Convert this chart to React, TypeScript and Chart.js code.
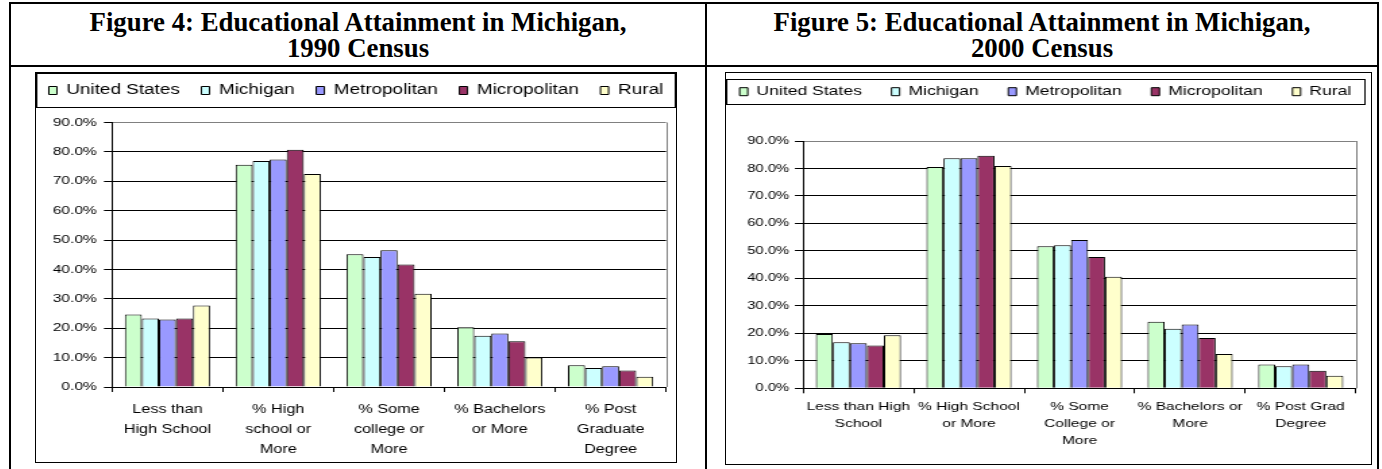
import React, { useEffect, useRef } from 'react';
import { Chart, registerables } from 'chart.js';

Chart.register(...registerables);

// ---------- data ----------
const SERIES_NAMES = ['United States', 'Michigan', 'Metropolitan', 'Micropolitan', 'Rural'];
const SERIES_COLORS = ['#CCFFCC', '#CCFFFF', '#9999FF', '#993366', '#FFFFCC'];

const TITLE_1990 = ['Figure 4: Educational Attainment in Michigan,', '1990 Census'];
const TITLE_2000 = ['Figure 5: Educational Attainment in Michigan,', '2000 Census'];

const CATEGORIES_1990 = [
  ['Less than', 'High School'],
  ['% High', 'school or', 'More'],
  ['% Some', 'college or', 'More'],
  ['% Bachelors', 'or More'],
  ['% Post', 'Graduate', 'Degree'],
];
const US_1990 = [24.7, 75.6, 45.2, 20.3, 7.4];
const MICHIGAN_1990 = [23.3, 76.9, 44.2, 17.4, 6.5];
const METRO_1990 = [23.0, 77.4, 46.5, 18.2, 7.1];
const MICRO_1990 = [23.3, 80.7, 41.7, 15.6, 5.6];
const RURAL_1990 = [27.7, 72.5, 31.7, 10.0, 3.5];

const CATEGORIES_2000 = [
  ['Less than High', 'School'],
  ['% High School', 'or More'],
  ['% Some', 'College or', 'More'],
  ['% Bachelors or', 'More'],
  ['% Post Grad', 'Degree'],
];
const US_2000 = [19.8, 80.5, 51.7, 24.2, 8.7];
const MICHIGAN_2000 = [16.8, 83.7, 52.1, 21.7, 8.0];
const METRO_2000 = [16.4, 83.7, 54.0, 23.2, 8.7];
const MICRO_2000 = [15.6, 84.6, 47.8, 18.3, 6.4];
const RURAL_2000 = [19.3, 80.9, 40.6, 12.5, 4.6];

const Y_MIN = 0;
const Y_MAX = 90;
const Y_STEP = 10;

// ---------- styling ----------
const SANS = '"Liberation Sans", Arial, sans-serif';
const SERIF = '"Liberation Serif", "Times New Roman", serif';

Chart.defaults.font.family = SANS;
Chart.defaults.color = '#000';

const legendFrame = {
  id: 'legendFrame',
  afterDraw(chart: any, _a: any, opts: any) {
    const ctx = chart.ctx;
    ctx.save();
    ctx.strokeStyle = '#000';
    ctx.lineWidth = 1;
    ctx.strokeRect(opts.x, opts.y, opts.w, opts.h);
    ctx.restore();
  },
};

const plotFrame = {
  id: 'plotFrame',
  beforeDatasetsDraw(chart: any) {
    const { ctx, chartArea } = chart;
    ctx.save();
    ctx.strokeStyle = '#808080';
    ctx.lineWidth = 1;
    ctx.beginPath();
    const x = Math.round(chartArea.right) + 0.5;
    ctx.moveTo(x, chartArea.top);
    ctx.lineTo(x, chartArea.bottom);
    ctx.stroke();
    ctx.restore();
  },
};

type PanelCfg = {
  categories: string[][];
  series: number[][];
  iw: number; // internal canvas width
  h: number;
  dw: number; // displayed width
  left: number;
  top: number;
  padTop: number;
  padLeft: number;
  padRight: number;
  topSpacer: number;
  rightSpacer: number;
  yWidth: number;
  xHeight: number;
  legendFont: number;
  legendPad: number;
  frame: { x: number; y: number; w: number; h: number };
  yFont: number;
  yPad: number;
  xFont: number;
  xLine: string;
  xPad: number;
};

function buildConfig(p: PanelCfg): any {
  return {
    type: 'bar',
    data: {
      labels: p.categories,
      datasets: SERIES_NAMES.map((name, i) => ({
        label: name,
        data: p.series[i],
        backgroundColor: SERIES_COLORS[i],
        borderColor: '#000',
        borderWidth: 1,
        categoryPercentage: 1 / 1.3,
        barPercentage: 1,
        xAxisID: 'x',
        yAxisID: 'y',
      })),
    },
    options: {
      responsive: false,
      animation: false,
      events: [],
      layout: { padding: { top: p.padTop, right: p.padRight, left: p.padLeft, bottom: 0 } },
      plugins: {
        tooltip: { enabled: false },
        title: { display: false },
        legend: {
          display: true,
          position: 'top',
          align: 'center',
          labels: {
            color: '#000',
            font: { family: SANS, size: p.legendFont },
            boxWidth: 6,
            boxHeight: 8,
            padding: p.legendPad,
          },
        },
        legendFrame: p.frame,
      },
      scales: {
        x: {
          type: 'category',
          position: 'bottom',
          offset: true,
          grid: {
            display: true,
            offset: true,
            drawOnChartArea: false,
            drawTicks: true,
            tickLength: 5,
            color: '#000',
          },
          border: { display: true, color: '#000', width: 1 },
          ticks: {
            color: '#000',
            font: { family: SANS, size: p.xFont, lineHeight: p.xLine },
            padding: p.xPad,
            maxRotation: 0,
            minRotation: 0,
            autoSkip: false,
          },
          afterFit: (s: any) => {
            s.height = p.xHeight;
          },
        },
        y: {
          type: 'linear',
          position: 'left',
          min: Y_MIN,
          max: Y_MAX,
          ticks: {
            stepSize: Y_STEP,
            color: '#000',
            font: { family: SANS, size: p.yFont },
            padding: p.yPad,
            callback: (v: any) => Number(v).toFixed(1) + '%',
          },
          grid: {
            color: (c: any) => (c.tick && c.tick.value === Y_MAX ? '#808080' : '#000'),
            tickColor: '#000',
            tickLength: 6,
            lineWidth: 1,
          },
          border: { display: true, color: '#000', width: 1 },
          afterFit: (s: any) => {
            s.width = p.yWidth;
          },
        },
        topSpacer: {
          type: 'linear',
          axis: 'x',
          position: 'top',
          display: true,
          grid: { display: false, drawTicks: false },
          ticks: { display: false },
          border: { display: false },
          afterFit: (s: any) => {
            s.height = p.topSpacer;
          },
        },
        rightSpacer: {
          type: 'linear',
          axis: 'y',
          position: 'right',
          display: true,
          grid: { display: false, drawTicks: false },
          ticks: { display: false },
          border: { display: false },
          afterFit: (s: any) => {
            s.width = p.rightSpacer;
          },
        },
      },
    },
    plugins: [legendFrame, plotFrame],
  };
}

function BarPanel({ cfg }: { cfg: PanelCfg }) {
  const ref = useRef<HTMLCanvasElement>(null);
  useEffect(() => {
    const chart = new Chart(ref.current as HTMLCanvasElement, buildConfig(cfg));
    return () => chart.destroy();
  }, []);
  return (
    <canvas
      ref={ref}
      width={cfg.iw}
      height={cfg.h}
      style={{
        position: 'absolute',
        left: cfg.left + 'px',
        top: cfg.top + 'px',
        width: cfg.dw + 'px',
        height: cfg.h + 'px',
      }}
    />
  );
}

// internal canvas units are stretched horizontally (~1.35x) to match the reference's wide text
const PANEL_1990: PanelCfg = {
  categories: CATEGORIES_1990,
  series: [US_1990, MICHIGAN_1990, METRO_1990, MICRO_1990, RURAL_1990],
  iw: 474,
  h: 389,
  dw: 640,
  left: 36,
  top: 73,
  padTop: -5.5,
  padLeft: -14,
  padRight: -14,
  topSpacer: 15,
  rightSpacer: 21.4,
  yWidth: 70.3,
  xHeight: 75,
  legendFont: 14,
  legendPad: 16,
  frame: { x: 0.5, y: 0.5, w: 473, h: 34 },
  yFont: 11.5,
  yPad: 5.3,
  xFont: 12,
  xLine: '20px',
  xPad: 8,
};

const PANEL_2000: PanelCfg = {
  categories: CATEGORIES_2000,
  series: [US_2000, MICHIGAN_2000, METRO_2000, MICRO_2000, RURAL_2000],
  iw: 478,
  h: 391,
  dw: 645,
  left: 726,
  top: 73,
  padTop: -9.8,
  padLeft: -17,
  padRight: -12.5,
  topSpacer: 32.8,
  rightSpacer: 23.6,
  yWidth: 74.1,
  xHeight: 75.7,
  legendFont: 13,
  legendPad: 22,
  frame: { x: 0.5, y: 6.5, w: 473, h: 25 },
  yFont: 11,
  yPad: 4.2,
  xFont: 11.5,
  xLine: '17px',
  xPad: 5,
};

const abs = (l: number, t: number, w: number, h: number, extra: any = {}) => ({
  position: 'absolute' as const,
  left: l + 'px',
  top: t + 'px',
  width: w + 'px',
  height: h + 'px',
  boxSizing: 'border-box' as const,
  ...extra,
});

const titleStyle = (l: number, w: number) => ({
  position: 'absolute' as const,
  left: l + 'px',
  top: '9px',
  width: w + 'px',
  textAlign: 'center' as const,
  fontFamily: SERIF,
  fontWeight: 'bold' as const,
  fontSize: '26.8px',
  lineHeight: '26px',
  color: '#000',
  whiteSpace: 'nowrap' as const,
});

export default function App() {
  return (
    <div style={abs(0, 0, 1382, 469, { overflow: 'hidden', background: '#fff' })}>
      {/* table frame */}
      <div style={abs(9, 2, 1370, 600, { border: '2px solid #000' })} />
      <div style={abs(705, 2, 2, 600, { background: '#000' })} />
      <div style={abs(9, 65, 1370, 2, { background: '#000' })} />
      {/* titles */}
      <div style={titleStyle(11, 694)}>
        {TITLE_1990[0]}
        <br />
        {TITLE_1990[1]}
      </div>
      <div style={titleStyle(707, 670)}>
        {TITLE_2000[0]}
        <br />
        {TITLE_2000[1]}
      </div>
      {/* chart boxes */}
      <div style={abs(35, 72, 642, 391, { border: '1px solid #000' })} />
      <div style={abs(725, 72, 647, 393, { border: '1px solid #000' })} />
      <BarPanel cfg={PANEL_1990} />
      <BarPanel cfg={PANEL_2000} />
    </div>
  );
}
